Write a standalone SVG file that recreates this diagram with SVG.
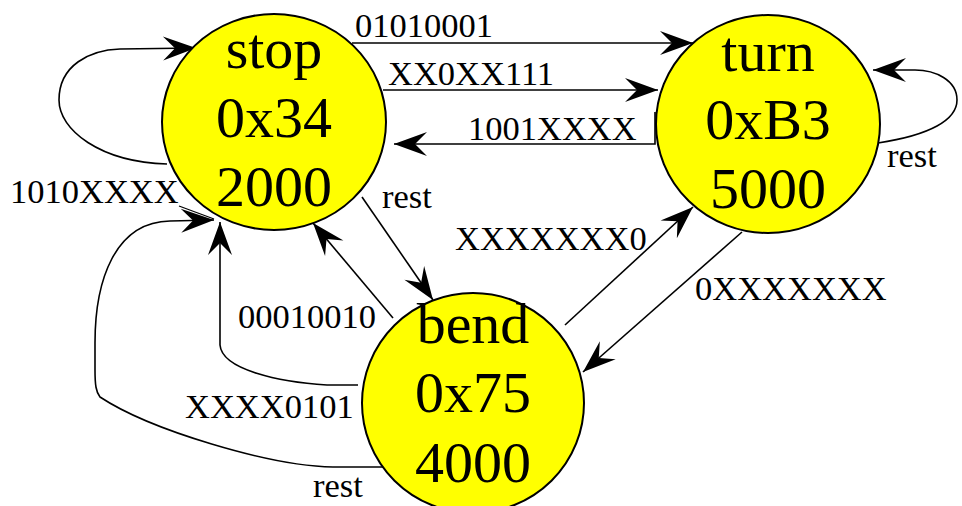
<svg xmlns="http://www.w3.org/2000/svg" width="962" height="506" viewBox="0 0 962 506">
<style>
.state{fill:#ffff00;stroke:#000;stroke-width:2}
.name{font-family:"Liberation Serif","Times New Roman",serif;font-size:58px;fill:#000;text-anchor:middle}
.lbl{font-family:"Liberation Serif","Times New Roman",serif;font-size:34.5px;fill:#000}
.edge{fill:none;stroke:#000;stroke-width:1.6;marker-end:url(#arr)}
.plain{fill:none;stroke:#000;stroke-width:1.3}
</style>
<defs>
<marker id="arr" markerUnits="userSpaceOnUse" viewBox="-34 -13 36 26" refX="0" refY="0" markerWidth="36" markerHeight="26" orient="auto">
<path d="M0,0 L-33,-12 L-21,0 L-33,12 Z" fill="#000"/>
</marker>
</defs>
<rect width="962" height="506" fill="#fff"/>
<g id="connectors">
<path class="edge" d="M352,43 L693,43"/>
<path class="edge" d="M383,90 L658,90"/>
<path class="edge" d="M655,112 L655,144 L394,144"/>
<path class="edge" d="M167,164 C100,162 59,130 59,100 C59,65 90,50 120,49 L196,48"/>
<path class="plain" d="M179,206 L214,219"/>
<path class="edge" d="M384,467 L333,467 C270,466 150,430 100,397 C96,392 95,385 95,370 L95,343 C95,280 115,222 170,221 L214,220"/>
<path class="edge" d="M358,385 L327,385 C280,382 222,370 220,345 L220,222"/>
<path class="edge" d="M393,318 L313,223"/>
<path class="edge" d="M362,197 L433,300"/>
<path class="edge" d="M878,143 C930,135 957,120 957,100 C957,80 935,70 915,70 L873,70"/>
<path class="edge" d="M565,325 L693,207"/>
<path class="edge" d="M742,232 L583,372"/>
<text class="lbl" x="355" y="37">01010001</text>
<text class="lbl" x="388" y="85">XX0XX111</text>
<text class="lbl" x="468" y="140">1001XXXX</text>
<text class="lbl" x="382" y="208">rest</text>
<text class="lbl" x="10" y="203">1010XXXX</text>
<text class="lbl" x="455" y="250">XXXXXXX0</text>
<text class="lbl" x="695" y="300">0XXXXXXX</text>
<text class="lbl" x="238" y="328">00010010</text>
<text class="lbl" x="185" y="418">XXXX0101</text>
<text class="lbl" x="313" y="497">rest</text>
<text class="lbl" x="887" y="167">rest</text>
</g>
<g id="stop">
<ellipse class="state" cx="274" cy="122" rx="112" ry="108"/>
<text class="name" x="274" y="68">stop</text>
<text class="name" x="274" y="137">0x34</text>
<text class="name" x="274" y="206">2000</text>
</g>
<g id="turn">
<ellipse class="state" cx="768" cy="124" rx="112" ry="109"/>
<text class="name" x="768" y="71">turn</text>
<text class="name" x="768" y="139">0xB3</text>
<text class="name" x="768" y="208">5000</text>
</g>
<g id="bend">
<ellipse class="state" cx="473" cy="403" rx="111" ry="110"/>
<text class="name" x="473" y="343">bend</text>
<text class="name" x="473" y="412">0x75</text>
<text class="name" x="473" y="482">4000</text>
</g>
</svg>
